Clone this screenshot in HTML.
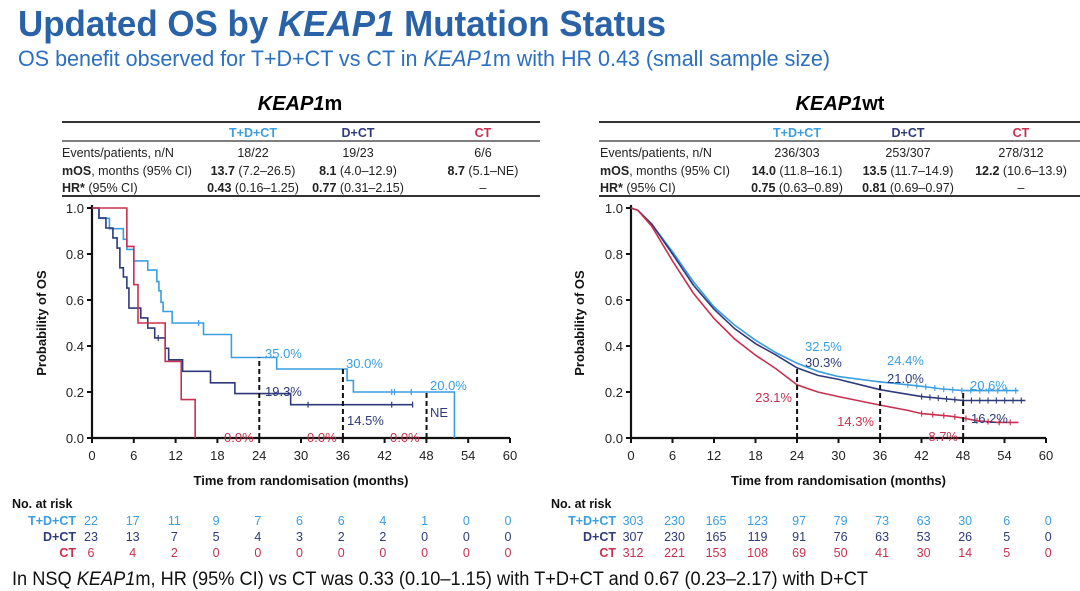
<!DOCTYPE html>
<html><head><meta charset="utf-8"><style>
html,body{margin:0;padding:0;background:#fff;}
svg{display:block;font-family:"Liberation Sans",Arial,sans-serif;}
</style></head><body>
<svg id="s" width="1080" height="591" viewBox="0 0 1080 591" xmlns="http://www.w3.org/2000/svg">
<rect width="1080" height="591" fill="#fff"/>
<text x="18" y="36" font-size="36" font-weight="bold" fill="#2a62a8" textLength="648" lengthAdjust="spacingAndGlyphs">Updated OS by <tspan font-style="italic">KEAP1</tspan> Mutation Status</text>
<text x="18" y="66" font-size="22" fill="#2a6fc0" textLength="812" lengthAdjust="spacingAndGlyphs">OS benefit observed for T+D+CT vs CT in <tspan font-style="italic">KEAP1</tspan>m with HR 0.43 (small sample size)</text>

<text x="300" y="110" font-size="20" font-weight="bold" text-anchor="middle"><tspan font-style="italic">KEAP1</tspan>m</text>
<text x="840" y="110" font-size="20" font-weight="bold" text-anchor="middle"><tspan font-style="italic">KEAP1</tspan>wt</text>

<g font-size="12.5" fill="#222">
<line x1="62" y1="122" x2="540" y2="122" stroke="#333" stroke-width="2"/>
<line x1="62" y1="141" x2="540" y2="141" stroke="#333" stroke-width="1.2"/>
<line x1="62" y1="196" x2="540" y2="196" stroke="#333" stroke-width="2"/>
<g font-weight="bold" text-anchor="middle"><text x="253" y="137" fill="#3a9ee0">T+D+CT</text><text x="358" y="137" fill="#2e3a7a">D+CT</text><text x="483" y="137" fill="#c8304f">CT</text></g>
<text x="62" y="157">Events/patients, n/N</text>
<text x="62" y="175"><tspan font-weight="bold">mOS</tspan>, months (95% CI)</text>
<text x="62" y="192"><tspan font-weight="bold">HR*</tspan> (95% CI)</text>
<g text-anchor="middle">
<text x="253" y="157">18/22</text><text x="358" y="157">19/23</text><text x="483" y="157">6/6</text>
<text x="253" y="175"><tspan font-weight="bold">13.7</tspan> (7.2–26.5)</text><text x="358" y="175"><tspan font-weight="bold">8.1</tspan> (4.0–12.9)</text><text x="483" y="175"><tspan font-weight="bold">8.7</tspan> (5.1–NE)</text>
<text x="253" y="192"><tspan font-weight="bold">0.43</tspan> (0.16–1.25)</text><text x="358" y="192"><tspan font-weight="bold">0.77</tspan> (0.31–2.15)</text><text x="483" y="192">–</text>
</g>
<line x1="599" y1="122" x2="1080" y2="122" stroke="#333" stroke-width="2"/>
<line x1="599" y1="141" x2="1080" y2="141" stroke="#333" stroke-width="1.2"/>
<line x1="599" y1="196" x2="1080" y2="196" stroke="#333" stroke-width="2"/>
<g font-weight="bold" text-anchor="middle"><text x="797" y="137" fill="#3a9ee0">T+D+CT</text><text x="908" y="137" fill="#2e3a7a">D+CT</text><text x="1021" y="137" fill="#c8304f">CT</text></g>
<text x="600" y="157">Events/patients, n/N</text>
<text x="600" y="175"><tspan font-weight="bold">mOS</tspan>, months (95% CI)</text>
<text x="600" y="192"><tspan font-weight="bold">HR*</tspan> (95% CI)</text>
<g text-anchor="middle">
<text x="797" y="157">236/303</text><text x="908" y="157">253/307</text><text x="1021" y="157">278/312</text>
<text x="797" y="175"><tspan font-weight="bold">14.0</tspan> (11.8–16.1)</text><text x="908" y="175"><tspan font-weight="bold">13.5</tspan> (11.7–14.9)</text><text x="1021" y="175"><tspan font-weight="bold">12.2</tspan> (10.6–13.9)</text>
<text x="797" y="192"><tspan font-weight="bold">0.75</tspan> (0.63–0.89)</text><text x="908" y="192"><tspan font-weight="bold">0.81</tspan> (0.69–0.97)</text><text x="1021" y="192">–</text>
</g>
</g>

<g id="charts"></g>

<text x="12" y="585" font-size="19" fill="#111" textLength="856" lengthAdjust="spacingAndGlyphs">In NSQ <tspan font-style="italic">KEAP1</tspan>m, HR (95% CI) vs CT was 0.33 (0.10–1.15) with T+D+CT and 0.67 (0.23–2.17) with D+CT</text>
</svg>
<script>
var NS="http://www.w3.org/2000/svg",G=document.getElementById("charts");
function el(t,a,txt){var e=document.createElementNS(NS,t);for(var k in a)e.setAttribute(k,a[k]);if(txt!=null)e.textContent=txt;G.appendChild(e);return e;}
var LB="#3a9ee0",NV="#2e3a7a",RD="#c8304f";
var Y0=438,YH=230;
function Yf(s){return Y0-s*YH;}
function axes(x0,x60,lbl){
  var Y1=Y0-YH;
  el("line",{x1:x0,y1:Y1-3,x2:x0,y2:Y0,stroke:"#111","stroke-width":2.2});
  el("line",{x1:x0,y1:Y0,x2:x60,y2:Y0,stroke:"#111","stroke-width":2.2});
  for(var i=0;i<=5;i++){var y=Y0-i*YH/5;el("line",{x1:x0-5,y1:y,x2:x0,y2:y,stroke:"#111","stroke-width":2});
    el("text",{x:x0-8,y:y+5,"font-size":13,"text-anchor":"end",fill:"#222"},(i*0.2).toFixed(1));}
  for(var j=0;j<=10;j++){var x=x0+j*(x60-x0)/10;el("line",{x1:x,y1:Y0,x2:x,y2:Y0+5,stroke:"#111","stroke-width":2});
    el("text",{x:x,y:Y0+22,"font-size":13,"text-anchor":"middle",fill:"#222"},j*6);}
  el("text",{x:(x0+x60)/2,y:485,"font-size":13,"font-weight":"bold","text-anchor":"middle",fill:"#111"},"Time from randomisation (months)");
  el("text",{x:0,y:0,"font-size":13,"font-weight":"bold","text-anchor":"middle",fill:"#111",transform:"translate("+lbl+",323) rotate(-90)"},"Probability of OS");
}
function step(x0,sc,pts,end,col,cens){
  var X=function(t){return x0+t*sc};
  var d="M"+X(0)+","+Yf(1);
  pts.forEach(function(p){d+=" H"+X(p[0])+" V"+Yf(p[1]);});
  d+=" H"+X(end);
  el("path",{d:d,fill:"none",stroke:col,"stroke-width":1.6});
  (cens||[]).forEach(function(c){el("line",{x1:X(c[0]),y1:Yf(c[1])-3,x2:X(c[0]),y2:Yf(c[1])+3,stroke:col,"stroke-width":1.2});});
}
function smooth(x0,sc,pts,col,cfrom,cto,cstep){
  var X=function(t){return x0+t*sc};
  var d="";pts.forEach(function(p,i){d+=(i?" L":"M")+X(p[0]).toFixed(1)+","+Yf(p[1]).toFixed(1);});
  el("path",{d:d,fill:"none",stroke:col,"stroke-width":1.6});
  function val(t){for(var i=1;i<pts.length;i++)if(t<=pts[i][0]){var a=pts[i-1],b=pts[i];return a[1]+(b[1]-a[1])*(t-a[0])/(b[0]-a[0]);}return pts[pts.length-1][1];}
  for(var t=cfrom;t<=cto;t+=cstep){el("line",{x1:X(t),y1:Yf(val(t))-3,x2:X(t),y2:Yf(val(t))+3,stroke:col,"stroke-width":1.1});}
}
function dash(x,s){el("line",{x1:x,y1:Y0,x2:x,y2:Yf(s),stroke:"#111","stroke-width":2,"stroke-dasharray":"5,3"});}
function txt(x,y,c,t,a){el("text",{x:x,y:y,"font-size":13,fill:c,"text-anchor":a||"start"},t);}

/* left */
var L0=92,LS=6.97;
axes(L0,510,46);
step(L0,LS,[[1,0.955],[2.5,0.91],[4.5,0.864],[5,0.82],[6,0.77],[8,0.73],[9.3,0.68],[9.6,0.64],[9.9,0.59],[10.2,0.55],[11.5,0.5],[16,0.45],[20,0.35],[26.5,0.30],[36.6,0.25],[37.5,0.20],[52,0]],52,LB,[[15.3,0.5],[43,0.2],[43.4,0.2],[45.8,0.2]]);
step(L0,LS,[[1,0.957],[2,0.913],[3,0.87],[3.6,0.826],[4,0.74],[4.5,0.70],[5,0.652],[5.3,0.565],[7,0.522],[8,0.478],[9,0.435],[10.5,0.39],[11,0.34],[13,0.29],[17,0.24],[20.5,0.193],[28.5,0.145]],46,NV,[[9.5,0.435],[31,0.145],[43,0.145],[46,0.145]]);
step(L0,LS,[[5,0.833],[6,0.667],[6.6,0.5],[10.5,0.333],[12.8,0.167],[14.8,0]],14.8,RD);
dash(L0+24*LS,0.35);dash(L0+36*LS,0.30);dash(L0+48*LS,0.20);
txt(265,358,LB,"35.0%");txt(346,368,LB,"30.0%");txt(430,390,LB,"20.0%");
txt(265,396,NV,"19.3%");txt(347,425,NV,"14.5%");txt(430,417,NV,"NE");
txt(224,442,RD,"0.0%");txt(307,442,RD,"0.0%");txt(390,442,RD,"0.0%");

/* right */
var R0=631,RS=6.92;
axes(R0,1046,584);
smooth(R0,RS,[[0,1],[1,0.99],[3,0.93],[6,0.81],[9,0.68],[12,0.57],[15,0.49],[18,0.425],[21,0.37],[24,0.325],[27,0.29],[30,0.267],[36,0.244],[42,0.225],[45,0.213],[48,0.206],[56,0.206]],LB,40,56,1.3);
smooth(R0,RS,[[0,1],[1,0.99],[3,0.93],[6,0.80],[9,0.665],[12,0.56],[15,0.475],[18,0.41],[21,0.36],[24,0.305],[27,0.272],[30,0.255],[36,0.21],[40,0.19],[42,0.18],[48,0.163],[57,0.163]],NV,42,57,1.2);
smooth(R0,RS,[[0,1],[1,0.99],[3,0.92],[6,0.77],[9,0.63],[12,0.52],[15,0.43],[18,0.36],[21,0.30],[24,0.231],[27,0.20],[30,0.18],[36,0.143],[40,0.12],[42,0.106],[46,0.095],[48,0.087],[50,0.075],[53,0.068],[56,0.068]],RD,42,56,1.6);
dash(R0+24*RS,0.31);dash(R0+36*RS,0.244);dash(R0+48*RS,0.206);
txt(805,351,LB,"32.5%");txt(805,367,NV,"30.3%");txt(792,402,RD,"23.1%","end");
txt(887,365,LB,"24.4%");txt(887,383,NV,"21.0%");txt(874,426,RD,"14.3%","end");
txt(970,390,LB,"20.6%");txt(971,423,NV,"16.2%");txt(958,441,RD,"8.7%","end");

/* risk tables */
function risk(x0,sc,lx,nx,rows){
  el("text",{x:nx,y:508,"font-size":12.5,"font-weight":"bold",fill:"#111"},"No. at risk");
  var cols=[LB,NV,RD],names=["T+D+CT","D+CT","CT"],ys=[525,541,557];
  rows.forEach(function(r,i){
    el("text",{x:lx,y:ys[i],"font-size":12.5,"font-weight":"bold","text-anchor":"end",fill:cols[i]},names[i]);
    r.forEach(function(v,j){el("text",{x:x0+j*6*sc,y:ys[i],"font-size":12.5,"text-anchor":"middle",fill:cols[i]},v);});
  });
}
risk(91,6.95,76,12,[[22,17,11,9,7,6,6,4,1,0,0],[23,13,7,5,4,3,2,2,0,0,0],[6,4,2,0,0,0,0,0,0,0,0]]);
risk(633,6.92,616,551,[[303,230,165,123,97,79,73,63,30,6,0],[307,230,165,119,91,76,63,53,26,5,0],[312,221,153,108,69,50,41,30,14,5,0]]);
</script>
</body></html>
